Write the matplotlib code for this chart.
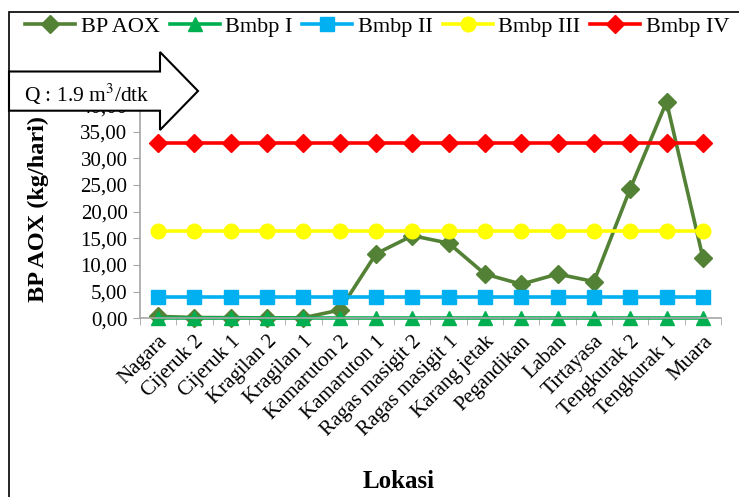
import matplotlib
matplotlib.use('Agg')
import matplotlib.pyplot as plt
from matplotlib.patches import Polygon, Rectangle
from matplotlib.ticker import FuncFormatter, FixedLocator
import numpy as np

lokasi = ['Nagara', 'Cijeruk 2', 'Cijeruk 1', 'Kragilan 2', 'Kragilan 1', 'Kamaruton 2',
          'Kamaruton 1', 'Ragas masigit 2', 'Ragas masigit 1', 'Karang jetak', 'Pegandikan',
          'Laban', 'Tirtayasa', 'Tengkurak 2', 'Tengkurak 1', 'Muara']
bp_aox = [0.35, 0.15, 0.12, 0.08, 0.1, 1.55, 12.1, 15.5, 14.1, 8.3, 6.4, 8.3, 6.9, 24.3, 40.6, 11.4]
bmbp_1 = [0.0] * 16
bmbp_2 = [4.05] * 16
bmbp_3 = [16.4] * 16
bmbp_4 = [32.8] * 16

plt.rcParams['font.family'] = ['Liberation Serif', 'DejaVu Serif']

W, H = 739, 497
fig = plt.figure(figsize=(W / 100, H / 100), dpi=100)

def fx(px):
    return px / W

def fy(py):
    return 1 - py / H

# plot area in pixels
left, right, bottom, top = 140, 721, 318.3, 78.4
ax = fig.add_axes([fx(left), fy(bottom), fx(right - left), (bottom - top) / H])

x = np.arange(len(lokasi))
series = [
    ('BP AOX', bp_aox, '#538135', 'D', 9.5),
    ('Bmbp I', bmbp_1, '#00B050', '^', 9.5),
    ('Bmbp II', bmbp_2, '#00B0F0', 's', 9.5),
    ('Bmbp III', bmbp_3, '#FFFF00', 'o', 10.5),
    ('Bmbp IV', bmbp_4, '#FF0000', 'D', 9.5),
]
handles = []
for name, vals, col, mk, ms in series:
    h, = ax.plot(x, vals, color=col, lw=2.6, marker=mk, markersize=ms, clip_on=False,
                 label=name)
    handles.append(h)

ax.set_xlim(-0.5, len(lokasi) - 0.5)
ax.set_ylim(0, 45)
ax.yaxis.set_major_locator(FixedLocator(np.arange(0, 41, 5)))
ax.yaxis.set_major_formatter(FuncFormatter(lambda v, p: f'{v:.2f}'.replace('.', ',')))

ax.set_xticks(x)
ax.set_xticklabels(lokasi, rotation=45, ha='right', rotation_mode='anchor', fontsize=15)
ax.set_xticks(np.arange(-0.5, len(lokasi), 1), minor=True)
ax.tick_params(axis='x', which='major', length=0, pad=10)
ax.tick_params(axis='x', which='minor', length=5, color='#A6A6A6', direction='out')
ax.tick_params(axis='y', length=5, color='#A6A6A6', labelsize=15, pad=4)

for s in ['top', 'right']:
    ax.spines[s].set_visible(False)
for s in ['left', 'bottom']:
    ax.spines[s].set_color('#A6A6A6')
    ax.spines[s].set_linewidth(1.2)

fig.text(fx(38), fy(209), 'BP AOX (kg/hari)', rotation=90, fontsize=17.5, fontweight='bold',
         ha='center', va='center')
fig.text(fx(399), fy(482), 'Lokasi', fontsize=18, fontweight='bold', ha='center', va='center')

# outer border of chart area
fig.add_artist(Rectangle((fx(9), fy(520)), fx(760), (520 - 12) / H, transform=fig.transFigure,
                         fill=False, edgecolor='black', lw=1.2, zorder=1))

fig.legend(handles=handles, loc='center left', bbox_to_anchor=(fx(25), fy(27)), ncol=5,
           frameon=False, fontsize=16, handlelength=2.25, handletextpad=0.25,
           columnspacing=0.45, borderaxespad=0, borderpad=0)

# flow arrow
pts = [(9, 71.5), (160, 71.5), (160, 52), (198, 91), (160, 130), (160, 110.7), (9, 110.7)]
arrow = Polygon([(fx(a), fy(b)) for a, b in pts], closed=True, transform=fig.transFigure,
                facecolor='white', edgecolor='black', lw=1.5, zorder=5)
fig.add_artist(arrow)
fig.text(fx(87), fy(94), 'Q : 1.9 m$^3$/dtk', fontsize=15.5, ha='center', va='center', zorder=6,
         math_fontfamily='stix')

fig.savefig('out.png', dpi=100)
